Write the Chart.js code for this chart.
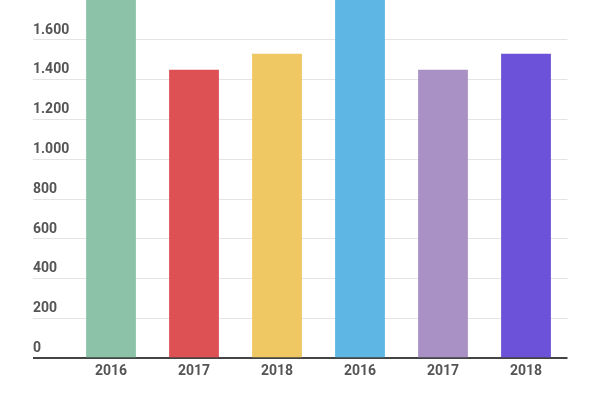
<!DOCTYPE html>
<html>
<head>
<meta charset="utf-8">
<script src="https://cdn.jsdelivr.net/npm/chart.js@4"></script>
<style>
  body { margin: 0; background: #fff; }
  #wrap { width: 600px; height: 400px; }
</style>
</head>
<body>
<div id="wrap"><canvas id="chart" width="600" height="400"></canvas></div>
<script>
// data (the 2016 bars run past the top edge)
const categories = ['2016', '2017', '2018', '2016', '2017', '2018'];
const values = [1860, 1450, 1530, 1860, 1450, 1530];
const barColors = ['#8cc3a8', '#dd5155', '#efc864', '#5eb6e4', '#a991c6', '#6b52d8'];
const yTicks = [0, 200, 400, 600, 800, 1000, 1200, 1400, 1600];

// 1600 -> "1.600"
const fmt = v => String(v).replace(/\B(?=(\d{3})+(?!\d))/g, '.');

const tickFont = { family: 'Roboto', size: 14, weight: 'bold', lineHeight: 1.39 };

onload = () => {
    new Chart(document.getElementById('chart'), {
        type: 'bar',
        data: {
            labels: categories,
            datasets: [{
                data: values,
                backgroundColor: barColors,
                barPercentage: 1,
                categoryPercentage: 0.6,
                clip: 0
            }]
        },
        options: {
            responsive: false,
            animation: false,
            layout: { padding: { left: 33, right: 32.5, top: 0, bottom: 15 } },
            plugins: { legend: { display: false }, tooltip: { enabled: false } },
            scales: {
                x: {
                    grid: { display: false, drawTicks: false },
                    border: { display: false },
                    ticks: { color: '#555', font: { family: 'Roboto', size: 14, weight: 'bold' }, padding: 5 }
                },
                y: {
                    min: 0,
                    max: 1800,
                    afterBuildTicks: s => { s.ticks = yTicks.map(v => ({ value: v })); },
                    afterFit: s => {
                        s.width = 36.5;
                        s.paddingTop = 0;
                        s.paddingBottom = 0;
                    },
                    border: { display: false },
                    grid: {
                        drawTicks: true,
                        tickLength: 36.5,
                        color: c => c.tick && c.tick.value === 0 ? '#444' : '#e4e4e4',
                        lineWidth: c => c.tick && c.tick.value === 0 ? 2 : 1
                    },
                    ticks: {
                        autoSkip: false,
                        crossAlign: 'far',
                        color: '#555',
                        font: tickFont,
                        callback: v => [fmt(v), '']
                    }
                }
            }
        }
    });
};
</script>
</body>
</html>
